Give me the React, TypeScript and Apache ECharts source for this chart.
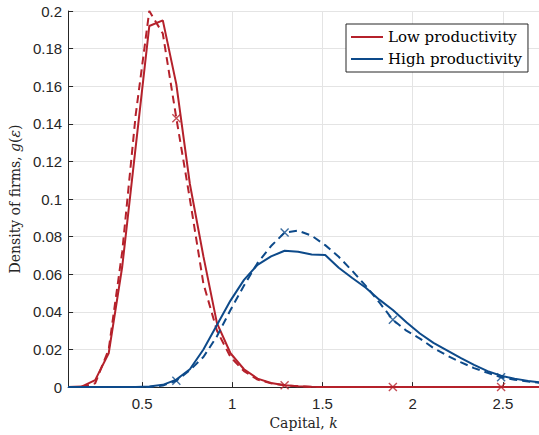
import { useEffect, useRef } from 'react';
import * as echarts from 'echarts';

// Capital grid, k
const kGrid = [
  0.09, 0.165, 0.24, 0.315, 0.39, 0.465, 0.54, 0.615, 0.69, 0.765, 0.84, 0.915,
  0.99, 1.065, 1.14, 1.215, 1.29, 1.365, 1.44, 1.515, 1.59, 1.665, 1.74, 1.815,
  1.89, 1.965, 2.04, 2.115, 2.19, 2.265, 2.34, 2.415, 2.49, 2.565, 2.64, 2.715,
];

// Low productivity: solid (simulated) and dashed (model)
const lowSolid = [
  0, 0.0003, 0.0037, 0.018, 0.064, 0.128, 0.192, 0.195, 0.161, 0.108, 0.0695, 0.034,
  0.018, 0.0095, 0.0045, 0.0022, 0.001, 0.0005, 0.0002, 0, 0, 0, 0, 0,
  0, 0, 0, 0, 0, 0, 0, 0, 0, 0, 0, 0,
];
const lowDashed = [
  0, 0.0002, 0.002, 0.02, 0.072, 0.145, 0.2, 0.188, 0.143, 0.1, 0.055, 0.03,
  0.016, 0.0085, 0.004, 0.002, 0.001, 0.0004, 0.0001, 0, 0, 0, 0, 0,
  0, 0, 0, 0, 0, 0, 0, 0, 0, 0, 0, 0,
];

// High productivity: solid and dashed
const highSolid = [
  0, 0, 0, 0, 0, 0, 0.0003, 0.0012, 0.004, 0.0095, 0.02, 0.033,
  0.046, 0.057, 0.065, 0.0695, 0.0725, 0.072, 0.0705, 0.0703, 0.0635, 0.058, 0.0528, 0.0465,
  0.041, 0.0345, 0.0285, 0.0235, 0.0195, 0.0155, 0.0118, 0.0085, 0.006, 0.0045, 0.0033, 0.0024,
];
const highDashed = [
  0, 0, 0, 0, 0, 0, 0.0001, 0.0008, 0.0034, 0.009, 0.016, 0.027,
  0.041, 0.054, 0.066, 0.075, 0.0822, 0.0832, 0.0805, 0.0755, 0.0693, 0.0618, 0.0538, 0.045,
  0.0358, 0.03, 0.0258, 0.0208, 0.0168, 0.0133, 0.0101, 0.0076, 0.0052, 0.0039, 0.003, 0.0022,
];

// indices of the dashed curves that carry an "x" marker
const markerIdx = [8, 16, 24, 32];

const legendNames = ['Low productivity', 'High productivity'];

const RED = '#B5212B';
const BLUE = '#0D4A8A';
const X_SYMBOL = 'path://M0,0L10,10M10,0L0,10';

export default function App() {
  const ref = useRef<HTMLDivElement>(null);

  useEffect(() => {
    if (!ref.current) return;
    const chart = echarts.init(ref.current, null, { renderer: 'svg' });
    const pairs = (ys: number[]) => kGrid.map((k, i) => [k, ys[i]]);
    const marks = (ys: number[]) => markerIdx.map((i) => [kGrid[i], ys[i]]);

    const lineSeries = (name: string, ys: number[], color: string, dashed: boolean) => ({
      type: 'line',
      name,
      data: pairs(ys),
      symbol: 'none',
      showSymbol: false,
      color,
      lineStyle: { color, width: 2, type: dashed ? [8, 5] : 'solid' },
      clip: true,
    });
    const markSeries = (name: string, ys: number[], color: string) => ({
      type: 'scatter',
      name,
      data: marks(ys),
      symbol: X_SYMBOL,
      symbolSize: 8,
      itemStyle: { color: 'transparent', borderColor: color, borderWidth: 1.4 },
      z: 3,
    });

    chart.setOption({
      animation: false,
      backgroundColor: '#ffffff',
      grid: { left: 65, right: 0, top: 11, bottom: 47, containLabel: false },
      legend: {
        data: legendNames.map((n) => ({ name: n, icon: 'rect' })),
        left: 346,
        top: 24,
        orient: 'vertical',
        itemWidth: 32,
        itemHeight: 2,
        itemGap: 4,
        padding: [4, 6, 4, 5],
        borderColor: '#262626',
        borderWidth: 1,
        backgroundColor: '#ffffff',
        textStyle: { fontFamily: 'DejaVu Serif', fontSize: 15, color: '#000000', lineHeight: 18 },
      },
      xAxis: {
        type: 'value',
        min: 0.09,
        max: 2.7,
        splitNumber: 5,
        name: '{r|Capital, }{i|k}',
        nameLocation: 'middle',
        nameGap: 24,
        nameTextStyle: {
          rich: {
            r: { fontFamily: 'DejaVu Serif', fontSize: 14, color: '#262626' },
            i: { fontFamily: 'DejaVu Serif', fontSize: 14, fontStyle: 'italic', color: '#262626' },
          },
        },
        axisLine: { show: true, lineStyle: { color: '#262626', width: 1 } },
        axisTick: { show: true, inside: true, length: 5, lineStyle: { color: '#262626' } },
        axisLabel: {
          showMinLabel: false,
          showMaxLabel: false,
          margin: 9,
          fontFamily: 'Liberation Sans',
          fontSize: 15,
          color: '#262626',
        },
        splitLine: { show: true, lineStyle: { color: '#E4E4E4', width: 1 } },
      },
      yAxis: {
        type: 'value',
        min: 0,
        max: 0.2,
        interval: 0.02,
        name: '{r|Density of firms, }{i|g}{r|(}{i|ε}{r|)}',
        nameLocation: 'middle',
        nameGap: 41,
        nameTextStyle: {
          rich: {
            r: { fontFamily: 'DejaVu Serif', fontSize: 14, color: '#262626' },
            i: { fontFamily: 'DejaVu Serif', fontSize: 14, fontStyle: 'italic', color: '#262626' },
          },
        },
        axisLine: { show: true, lineStyle: { color: '#262626', width: 1 } },
        axisTick: { show: true, inside: true, length: 5, lineStyle: { color: '#262626' } },
        axisLabel: {
          margin: 6,
          fontFamily: 'Liberation Sans',
          fontSize: 15,
          color: '#262626',
          formatter: (v: number) => String(Math.round(v * 100) / 100),
        },
        splitLine: { show: true, lineStyle: { color: '#E4E4E4', width: 1 } },
      },
      series: [
        lineSeries('Low productivity', lowSolid, RED, false),
        lineSeries('Low productivity (model)', lowDashed, RED, true),
        markSeries('Low productivity markers', lowDashed, RED),
        lineSeries('High productivity', highSolid, BLUE, false),
        lineSeries('High productivity (model)', highDashed, BLUE, true),
        markSeries('High productivity markers', highDashed, BLUE),
      ],
    });
    return () => chart.dispose();
  }, []);

  return (
    <div
      ref={ref}
      style={{ position: 'absolute', left: 0, top: 0, width: 539, height: 435 }}
    />
  );
}
